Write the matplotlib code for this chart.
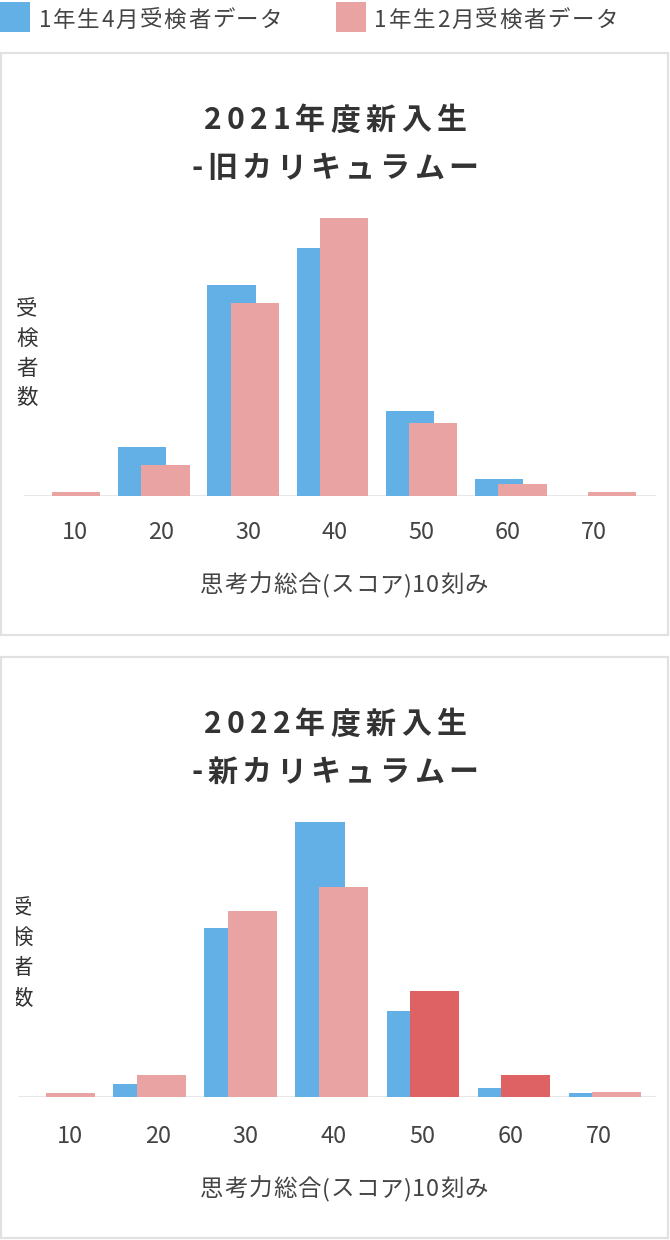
import matplotlib
matplotlib.use('Agg')
import matplotlib.pyplot as plt
from matplotlib.font_manager import FontProperties
from matplotlib.patches import Rectangle
import matplotlib.transforms as mtransforms
import numpy as np

# ---------------- data ----------------
categories = ['10', '20', '30', '40', '50', '60', '70']
april_2021 = [0, 49, 211, 248, 85, 17, 0]      # 1年生4月受検者 (2021)
feb_2021 = [4, 31, 193, 278, 73, 12, 4]        # 1年生2月受検者 (2021)
april_2022 = [0, 13, 169, 275, 86, 9, 4]       # 1年生4月受検者 (2022)
feb_2022 = [4, 22, 186, 210, 106, 22, 5]       # 1年生2月受検者 (2022)
feb_2022_highlight = [False, False, False, False, True, True, False]
legend_labels = ['1年生4月受検者データ', '1年生2月受検者データ']
titles = [('2021年度新入生', '-旧カリキュラムー'),
          ('2022年度新入生', '-新カリキュラムー')]
xlabel_text = '思考力総合(スコア)10刻み'
ylabel_text = '受検者数'

# ---------------- style ----------------
W, H, DPI = 670, 1240, 100
BLUE = '#63B0E6'
PINK = '#EAA3A3'
RED = '#DE6163'
GRID = '#E2E2E2'
BORDER = '#E1E1E1'
TXT = '#3C3C3C'
FAM = ['Noto Sans CJK JP', 'DejaVu Sans']
plt.rcParams['font.family'] = FAM

fig = plt.figure(figsize=(W / DPI, H / DPI), dpi=DPI)
fig.patch.set_facecolor('white')
renderer = fig.canvas.get_renderer()


def px2pt(p):
    return p * 72.0 / DPI


def fx(x):
    return x / W


def fy(y):
    return 1 - y / H


def spaced_text(s, x, yc, size_px, spacing_px, ha='center', weight='normal',
                color=TXT):
    fp = FontProperties(family=FAM, size=px2pt(size_px), weight=weight)
    widths = [renderer.get_text_width_height_descent(ch, fp, ismath=False)[0]
              for ch in s]
    total = sum(widths) + spacing_px * (len(s) - 1)
    cx = x - total / 2 if ha == 'center' else x
    base = yc + 0.38 * size_px
    for ch, w in zip(s, widths):
        fig.text(fx(cx), fy(base), ch, ha='left', va='baseline',
                 fontproperties=fp, color=color, zorder=5)
        cx += w + spacing_px


# ---------------- legend ----------------
legend_items = [(BLUE, 0, 39), (PINK, 336, 374.5)]
for (col, sx, tx), lab in zip(legend_items, legend_labels):
    fig.patches.append(Rectangle((fx(sx), fy(32)), 30 / W, 30 / H,
                                 transform=fig.transFigure, facecolor=col,
                                 edgecolor='none'))
    spaced_text(lab, tx, 18, 22.5, 1.6, ha='left', color='#444444')

# ---------------- charts ----------------
charts = [
    dict(a=april_2021, b=feb_2021, hl=[False] * 7, title=titles[0],
         panel=(53, 635), left=24, right=656, base=496, top=200,
         xlim=(-0.4535, 6.624), ylx=27, ylys=[307, 337, 367, 396], clip=None),
    dict(a=april_2022, b=feb_2022, hl=feb_2022_highlight, title=titles[1],
         panel=(657, 1237.5), left=18, right=656, base=1097, top=800,
         xlim=(-0.449, 6.561), ylx=22, ylys=[906, 936, 966, 997], clip=16),
]

for c in charts:
    off = c['panel'][0] - 53
    # panel frame
    p0, p1 = c['panel']
    fig.patches.append(Rectangle((fx(1), fy(p1)), 667 / W, (p1 - p0) / H,
                                 transform=fig.transFigure, facecolor='none',
                                 edgecolor=BORDER, linewidth=px2pt(2.2),
                                 zorder=-1))
    # titles
    spaced_text(c['title'][0], 335, 118 + off, 30, 5.2, weight='bold',
                color='#333333')
    spaced_text(c['title'][1], 335, 166 + off, 30, 4.4, weight='bold',
                color='#333333')

    ax = fig.add_axes([fx(c['left']), fy(c['base']),
                       (c['right'] - c['left']) / W,
                       (c['base'] - c['top']) / H])
    ax.set_facecolor('none')
    x = np.arange(len(categories))
    ax.bar(x - 0.13, c['a'], width=0.54, color=BLUE, linewidth=0, zorder=2)
    bcols = [RED if h else PINK for h in c['hl']]
    ax.bar(x + 0.13, c['b'], width=0.54, color=bcols, linewidth=0, zorder=3)
    ax.axhline(0, color=GRID, linewidth=px2pt(2.6), zorder=1)
    ax.set_xlim(*c['xlim'])
    ax.set_ylim(0, c['base'] - c['top'])
    ax.set_xticks([])
    ax.set_yticks([])
    for s in ax.spines.values():
        s.set_visible(False)

    # category labels (positioned in the data coordinates of the axis)
    trans = mtransforms.blended_transform_factory(ax.transData, fig.transFigure)
    label_pos = np.linspace(0.117, 5.93, len(categories))
    fp_tick = FontProperties(family=FAM, size=px2pt(23.5))
    for lp, cat in zip(label_pos, categories):
        ax.text(lp, fy(530 + off + 0.37 * 23.5), cat, transform=trans,
                ha='center', va='baseline', fontproperties=fp_tick,
                color='#444444', clip_on=False)

    # x label
    spaced_text(xlabel_text, 344, 583 + off, 23.5, 0.8, color='#444444')

    # y label (vertical, one char per line)
    fp_y = FontProperties(family=FAM, size=px2pt(21.5))
    for ch, yy in zip(ylabel_text, c['ylys']):
        t = fig.text(fx(c['ylx']), fy(yy + 0.38 * 21.5), ch, ha='center',
                     va='baseline', fontproperties=fp_y, color='#333333')
        if c['clip'] is not None:
            clip_rect = Rectangle((fx(c['clip']), 0), 0.5, 1,
                                  transform=fig.transFigure)
            t.set_clip_path(clip_rect)

fig.savefig('out.png', dpi=DPI, facecolor='white')
